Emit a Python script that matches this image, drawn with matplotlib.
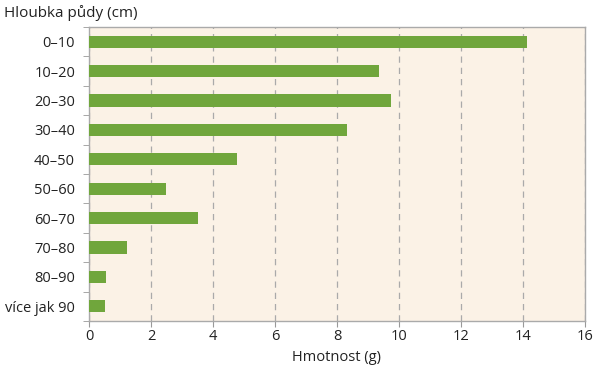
import numpy as np
import matplotlib.pyplot as plt

# hloubky a hmotnosti
depths = ["0–10", "10–20", "20–30", "30–40", "40–50", "50–60",
          "60–70", "70–80", "80–90", "více jak 90"]
mass = [14.13, 9.35, 9.74, 8.32, 4.77, 2.48, 3.52, 1.23, 0.55, 0.52]
xticks = [0, 2, 4, 6, 8, 10, 12, 14, 16]

plt.rcParams['font.family'] = ['Open Sans', 'DejaVu Sans']

fig = plt.figure(figsize=(6, 3.7), dpi=100)
ax = fig.add_axes([89 / 600, 1 - 321 / 370, (585 - 89) / 600, (321 - 27) / 370])
ax.set_facecolor("#fbf2e6")

y = np.arange(len(depths))
ax.barh(y, mass, height=0.42, color="#70a63c", zorder=3)

ax.set_xlim(0, 16)
ax.set_ylim(len(depths) - 0.5, -0.5)
ax.set_xticks(xticks)
ax.set_xticklabels([str(v) for v in xticks], fontsize=10.5, color="#222222")
ax.set_yticks(y)
ax.set_yticklabels(depths, fontsize=10.5, color="#222222")
ax.set_yticks(np.arange(len(depths) + 1) - 0.5, minor=True)
ax.tick_params(axis="y", which="major", length=0, pad=10)
ax.tick_params(axis="y", which="minor", length=4, color="#999999", direction="out")
ax.tick_params(axis="x", which="major", length=4, color="#999999", pad=2)

ax.grid(axis="x", linestyle=(0, (5, 4)), color="#aaaaaa", linewidth=0.9, zorder=1)
for s in ax.spines.values():
    s.set_color("#aaaaaa")
    s.set_linewidth(1.0)

ax.set_xlabel("Hmotnost (g)", fontsize=10.5, color="#222222", labelpad=4)
fig.text(4 / 600, 1 - 13 / 370, "Hloubka půdy (cm)", fontsize=11,
         color="#222222", va="center", ha="left")

fig.savefig("out.png", dpi=100)
